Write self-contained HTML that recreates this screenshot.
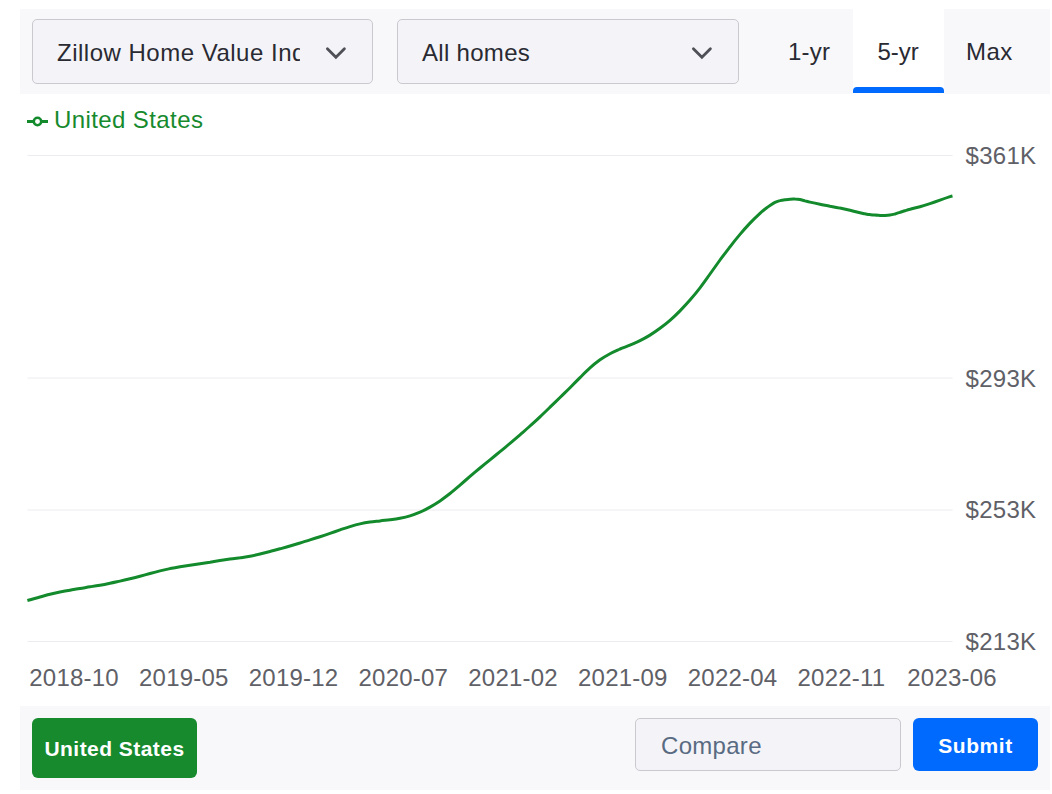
<!DOCTYPE html>
<html><head><meta charset="utf-8">
<style>
html,body{margin:0;padding:0;background:#fff;}
body{width:1052px;height:794px;overflow:hidden;position:relative;font-family:"Liberation Sans",sans-serif;}
.abs{position:absolute;}
.t24{position:absolute;font-size:24px;line-height:24px;white-space:nowrap;}
.topbar{position:absolute;left:20px;top:9px;width:1030px;height:85px;background:#f8f8fa;}
.sel{position:absolute;top:19px;height:65px;box-sizing:border-box;border:1px solid #cacace;border-radius:5px;background:#f4f4f8;overflow:hidden;}
.seltext{position:absolute;font-size:24px;line-height:24px;white-space:nowrap;color:#2a2a33;}
.chev{position:absolute;}
.tab{position:absolute;top:9px;height:84px;}
.tabtext{position:absolute;font-size:24px;line-height:24px;top:40.3px;color:#2a2a33;white-space:nowrap;}
.xl{position:absolute;top:665.7px;letter-spacing:0.2px;font-size:24px;line-height:24px;color:#606067;white-space:nowrap;}
.yl{position:absolute;left:965.5px;letter-spacing:0.3px;font-size:24px;line-height:24px;color:#606067;white-space:nowrap;}
.bottombar{position:absolute;left:20px;top:706px;width:1030px;height:84px;background:#f8f8fa;}
.btn{position:absolute;box-sizing:border-box;border-radius:6px;color:#fff;font-weight:bold;font-size:21px;line-height:21px;text-align:center;white-space:nowrap;}
</style></head><body>
<div class="topbar"></div>
<div class="sel" style="left:32px;width:341px;">
  <div class="seltext" style="left:24px;top:21.2px;letter-spacing:0.5px;width:243px;overflow:hidden;">Zillow Home Value Index</div>
  </div>
<div class="sel" style="left:397px;width:342px;">
  <div class="seltext" style="left:24px;top:21.2px;letter-spacing:0.3px;">All homes</div>
</div>
<svg class="abs" style="left:0;top:0" width="760" height="70"><g fill="none" stroke="#4f4f57" stroke-width="2.8" stroke-linecap="round"><path d="M327.4,48.7 L335.9,57.2 L344.4,48.7"/><path d="M693.4,48.7 L701.9,57.2 L710.4,48.7"/></g></svg>
<div class="tab" style="left:853px;width:91px;height:85px;background:#fff;"></div>
<div class="abs" style="left:853px;top:87px;width:91px;height:6px;background:#006aff;border-radius:4px 4px 0 0;"></div>
<div class="tabtext" style="left:788px;letter-spacing:0.2px;">1-yr</div>
<div class="tabtext" style="left:877.5px;">5-yr</div>
<div class="tabtext" style="left:966px;letter-spacing:0.5px;">Max</div>

<svg class="abs" style="left:0;top:0" width="1052" height="794">
  <g stroke="#ececf0" stroke-width="1"><line x1="27.5" x2="952.5" y1="155.5" y2="155.5"/>
<line x1="27.5" x2="952.5" y1="378" y2="378"/>
<line x1="27.5" x2="952.5" y1="510" y2="510"/>
<line x1="27.5" x2="952.5" y1="641.5" y2="641.5"/></g>
  <path d="M27.4,600.5C29.5,599.9 36.2,598.0 40.0,597.0C43.8,596.0 46.7,595.1 50.0,594.3C53.3,593.5 56.7,592.7 60.0,592.0C63.3,591.4 66.7,590.8 70.0,590.2C73.3,589.6 76.7,589.1 80.0,588.5C83.3,587.9 86.7,587.4 90.0,586.8C93.3,586.3 96.7,585.8 100.0,585.2C103.3,584.6 106.7,583.9 110.0,583.2C113.3,582.6 116.7,581.8 120.0,581.1C123.3,580.4 126.7,579.6 130.0,578.8C133.3,578.1 136.7,577.2 140.0,576.3C143.3,575.4 146.7,574.4 150.0,573.5C153.3,572.6 156.7,571.7 160.0,570.9C163.3,570.1 166.7,569.3 170.0,568.6C173.3,568.0 176.7,567.4 180.0,566.8C183.3,566.3 186.7,565.8 190.0,565.3C193.3,564.8 196.7,564.2 200.0,563.7C203.3,563.2 206.7,562.7 210.0,562.2C213.3,561.6 216.7,561.0 220.0,560.5C223.3,560.0 226.7,559.5 230.0,559.0C233.3,558.5 236.7,558.2 240.0,557.8C243.3,557.3 246.7,556.9 250.0,556.2C253.3,555.6 256.7,554.8 260.0,554.0C263.3,553.2 266.7,552.3 270.0,551.5C273.3,550.6 276.7,549.8 280.0,548.8C283.3,547.9 286.7,547.0 290.0,546.0C293.3,545.0 296.7,544.0 300.0,543.0C303.3,541.9 306.7,540.9 310.0,539.8C313.3,538.8 316.7,537.7 320.0,536.7C323.3,535.6 326.7,534.5 330.0,533.4C333.3,532.3 336.7,531.1 340.0,529.9C343.3,528.8 346.7,527.6 350.0,526.6C353.3,525.6 356.7,524.6 360.0,523.9C363.3,523.2 366.7,522.6 370.0,522.1C373.3,521.6 376.7,521.3 380.0,520.9C383.3,520.5 386.7,520.2 390.0,519.8C393.3,519.4 396.7,519.0 400.0,518.3C403.3,517.7 406.7,517.0 410.0,515.9C413.3,514.9 416.7,513.6 420.0,512.2C423.3,510.7 426.7,509.0 430.0,507.1C433.3,505.2 436.7,503.1 440.0,500.9C443.3,498.6 446.7,496.1 450.0,493.5C453.3,490.8 456.7,487.9 460.0,485.1C463.3,482.2 466.7,479.3 470.0,476.4C473.3,473.6 476.7,470.8 480.0,468.0C483.3,465.3 486.7,462.5 490.0,459.8C493.3,457.1 496.7,454.4 500.0,451.7C503.3,448.9 506.7,446.2 510.0,443.4C513.3,440.6 516.7,437.6 520.0,434.8C523.3,431.9 526.7,429.0 530.0,426.0C533.3,423.0 536.7,420.0 540.0,416.8C543.3,413.7 546.7,410.4 550.0,407.2C553.3,404.0 556.7,400.7 560.0,397.5C563.3,394.2 566.7,391.0 570.0,387.7C573.3,384.4 576.7,380.9 580.0,377.6C583.3,374.3 586.7,370.8 590.0,367.9C593.3,364.9 596.7,362.2 600.0,359.8C603.3,357.5 606.7,355.5 610.0,353.7C613.3,351.9 616.7,350.5 620.0,349.0C623.3,347.6 626.7,346.5 630.0,345.1C633.3,343.7 636.7,342.4 640.0,340.7C643.3,339.0 646.7,337.1 650.0,335.1C653.3,333.0 656.7,330.8 660.0,328.3C663.3,325.9 666.7,323.3 670.0,320.4C673.3,317.5 676.7,314.3 680.0,310.9C683.3,307.5 686.7,303.9 690.0,300.1C693.3,296.2 696.7,292.1 700.0,287.8C703.3,283.5 706.7,278.6 710.0,274.0C713.3,269.4 716.7,264.6 720.0,260.0C723.3,255.5 726.7,251.1 730.0,246.8C733.3,242.5 736.7,238.3 740.0,234.4C743.3,230.4 746.7,226.6 750.0,223.1C753.3,219.6 757.5,215.6 760.0,213.3C762.5,211.0 763.3,210.4 765.0,209.1C766.7,207.8 768.3,206.5 770.0,205.4C771.7,204.3 773.3,203.2 775.0,202.4C776.7,201.6 778.3,201.0 780.0,200.6C781.7,200.1 783.3,199.9 785.0,199.7C786.7,199.5 788.3,199.3 790.0,199.2C791.7,199.1 793.3,199.0 795.0,199.1C796.7,199.1 798.3,199.3 800.0,199.6C801.7,199.9 803.3,200.4 805.0,200.9C806.7,201.3 807.5,201.6 810.0,202.1C812.5,202.7 816.7,203.6 820.0,204.2C823.3,204.9 826.7,205.5 830.0,206.2C833.3,206.8 836.7,207.4 840.0,208.1C843.3,208.7 846.7,209.5 850.0,210.3C853.3,211.1 857.5,212.2 860.0,212.8C862.5,213.4 863.3,213.5 865.0,213.8C866.7,214.1 868.3,214.4 870.0,214.6C871.7,214.8 873.3,215.0 875.0,215.1C876.7,215.3 878.3,215.3 880.0,215.4C881.7,215.4 883.3,215.4 885.0,215.4C886.7,215.3 888.3,215.2 890.0,215.0C891.7,214.8 893.3,214.4 895.0,214.0C896.7,213.5 898.3,212.9 900.0,212.3C901.7,211.8 903.3,211.2 905.0,210.7C906.7,210.2 907.5,209.9 910.0,209.3C912.5,208.6 916.7,207.6 920.0,206.7C923.3,205.8 926.7,204.8 930.0,203.7C933.3,202.6 936.7,201.4 940.0,200.2C943.3,199.0 947.9,197.4 950.0,196.7C952.1,196.0 952.1,196.1 952.5,196.0" fill="none" stroke="#138a2c" stroke-width="3" stroke-linejoin="round"/>
  <line x1="27" x2="48" y1="121.5" y2="121.5" stroke="#138a2c" stroke-width="3"/>
  <circle cx="37.5" cy="121.5" r="3.7" fill="#fff" stroke="#138a2c" stroke-width="2.5"/>
</svg>
<div class="t24" style="left:54px;top:107.7px;color:#178a2e;letter-spacing:0.4px;">United States</div>
<div class="xl" style="left:29.30px">2018-10</div>
<div class="xl" style="left:139.05px">2019-05</div>
<div class="xl" style="left:248.80px">2019-12</div>
<div class="xl" style="left:358.55px">2020-07</div>
<div class="xl" style="left:468.30px">2021-02</div>
<div class="xl" style="left:578.05px">2021-09</div>
<div class="xl" style="left:687.80px">2022-04</div>
<div class="xl" style="left:797.55px">2022-11</div>
<div class="xl" style="left:907.30px">2023-06</div>
<div class="yl" style="top:144.15px">$361K</div>
<div class="yl" style="top:367.00px">$293K</div>
<div class="yl" style="top:498.30px">$253K</div>
<div class="yl" style="top:630.30px">$213K</div>
<div class="bottombar"></div>
<div class="btn" style="left:32px;top:718px;width:165px;height:60px;background:#168a2d;padding-top:20.2px;letter-spacing:0.45px;">United States</div>
<div class="abs" style="left:635px;top:718px;width:266px;height:53px;box-sizing:border-box;border:1px solid #cacace;border-radius:5px;background:#f4f4f8;"></div>
<div class="t24" style="left:661px;top:733.8px;color:#596b82;letter-spacing:0.3px;">Compare</div>
<div class="btn" style="left:913px;top:718px;width:125px;height:53px;background:#006aff;padding-top:16.8px;letter-spacing:0.55px;">Submit</div>
</body></html>
